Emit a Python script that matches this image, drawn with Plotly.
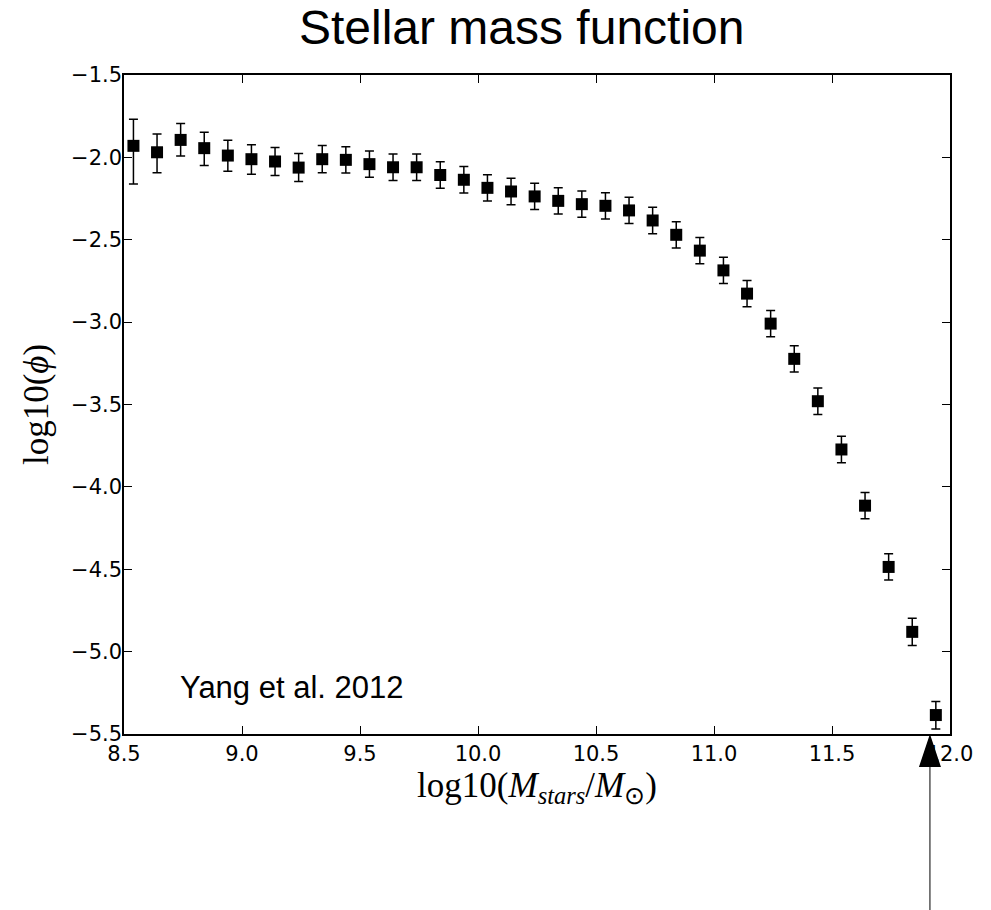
import plotly.graph_objects as go

# Data
log_mass = [8.54, 8.64, 8.74, 8.84, 8.94, 9.04, 9.14, 9.24, 9.34, 9.44,
            9.54, 9.64, 9.74, 9.84, 9.94, 10.04, 10.14, 10.24, 10.34, 10.44,
            10.54, 10.64, 10.74, 10.84, 10.94, 11.04, 11.14, 11.24, 11.34, 11.44,
            11.54, 11.64, 11.74, 11.84, 11.94]
log_phi = [-1.930, -1.969, -1.894, -1.944, -1.989, -2.011, -2.025, -2.062, -2.011, -2.015,
           -2.041, -2.060, -2.060, -2.107, -2.136, -2.185, -2.207, -2.237, -2.264, -2.284,
           -2.294, -2.322, -2.383, -2.470, -2.566, -2.686, -2.827, -3.009, -3.223, -3.480,
           -3.773, -4.114, -4.486, -4.880, -5.385]
err_up = [0.161, 0.111, 0.100, 0.097, 0.093, 0.087, 0.085, 0.085, 0.083, 0.080,
          0.080, 0.080, 0.080, 0.080, 0.080, 0.080, 0.080, 0.080, 0.080, 0.080,
          0.080, 0.080, 0.080, 0.080, 0.080, 0.080, 0.080, 0.080, 0.080, 0.080,
          0.080, 0.080, 0.080, 0.082, 0.082]
err_down = [0.232, 0.124, 0.097, 0.105, 0.095, 0.091, 0.085, 0.085, 0.082, 0.080,
            0.080, 0.080, 0.080, 0.080, 0.080, 0.080, 0.080, 0.080, 0.080, 0.080,
            0.080, 0.080, 0.080, 0.080, 0.080, 0.080, 0.080, 0.080, 0.080, 0.080,
            0.080, 0.080, 0.080, 0.083, 0.085]

x_ticks = [8.5, 9.0, 9.5, 10.0, 10.5, 11.0, 11.5, 12.0]
y_ticks = [-1.5, -2.0, -2.5, -3.0, -3.5, -4.0, -4.5, -5.0, -5.5]
arrow_x = 11.915

fig = go.Figure()
fig.add_trace(go.Scatter(
    x=log_mass, y=log_phi, mode="markers",
    marker=dict(symbol="square", size=12, color="black", line=dict(width=0)),
    error_y=dict(type="data", symmetric=False, array=err_up, arrayminus=err_down,
                 color="black", thickness=1.5, width=4.5),
    showlegend=False,
))

axis_common = dict(showline=True, linecolor="black", linewidth=1.5, mirror="ticks",
                   ticks="inside", ticklen=8, tickwidth=1, tickcolor="black",
                   showgrid=False, zeroline=False,
                   tickfont=dict(family="DejaVu Sans", size=21, color="black"),
                   tickformat=".1f")

fig.update_xaxes(range=[8.5, 12.0], tickvals=x_ticks, **axis_common,
                 title=dict(text="log10(<i>M</i><sub><i>stars</i></sub>/<i>M</i><sub>⊙</sub>)",
                            font=dict(family="Liberation Serif", size=35, color="black"),
                            standoff=0))
fig.update_yaxes(range=[-5.5, -1.5], tickvals=y_ticks, **axis_common,
                 ticklabelstandoff=-4,
                 title=dict(text="log10(<i>ϕ</i>)",
                            font=dict(family="Liberation Serif", size=35, color="black"),
                            standoff=12))

fig.add_annotation(x=0.065, y=0.07, xref="paper", yref="paper", xanchor="left", yanchor="middle",
                   text="Yang et al. 2012", showarrow=False,
                   font=dict(family="Liberation Sans", size=31, color="black"))

# arrow below the axis (line + filled head)
fig.add_shape(type="line", xref="x", yref="paper", xsizemode="pixel", ysizemode="pixel",
              xanchor=arrow_x, yanchor=0, x0=0, x1=0, y0=-30, y1=-200,
              line=dict(color="black", width=1), layer="above")
fig.add_shape(type="path", xref="x", yref="paper", xsizemode="pixel", ysizemode="pixel",
              xanchor=arrow_x, yanchor=0, path="M0,0 L-11,-33 L11,-33 Z",
              fillcolor="black", line=dict(color="black", width=0), layer="above")

fig.update_layout(
    width=991, height=910,
    margin=dict(l=124, r=41, t=75, b=176),
    paper_bgcolor="white", plot_bgcolor="white",
    title=dict(text="Stellar mass function", x=0.4815, xanchor="center",
               xref="paper", yref="container", y=1 - 27 / 910, yanchor="middle",
               font=dict(family="Liberation Sans", size=48, color="black")),
)

fig.write_html("out.html")
